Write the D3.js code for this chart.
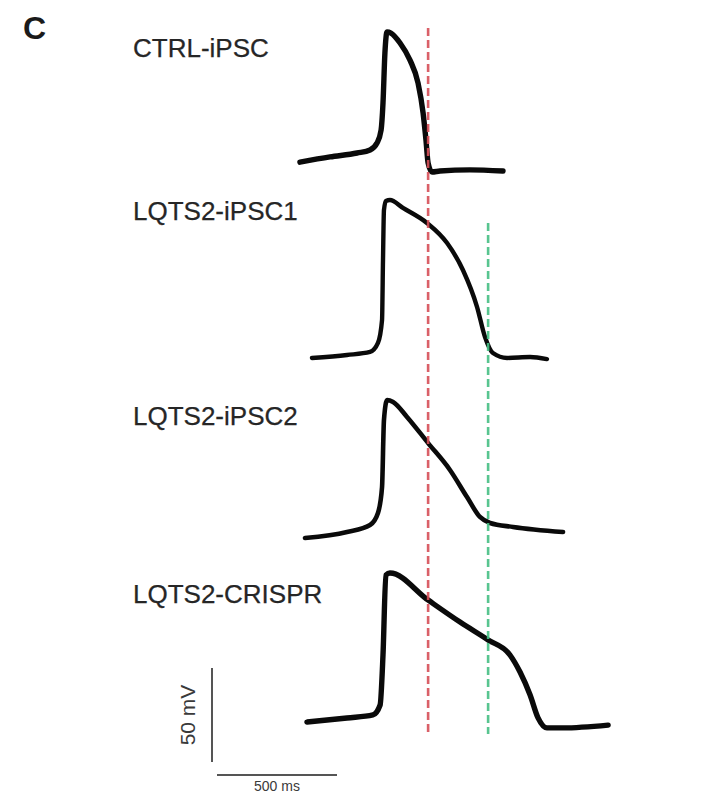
<!DOCTYPE html>
<html>
<head>
<meta charset="utf-8">
<script src="https://cdn.jsdelivr.net/npm/d3@7"></script>
<style>
  html, body { margin: 0; padding: 0; background: #fff; }
  svg { display: block; }
</style>
</head>
<body>
<svg id="chart" width="715" height="793"></svg>
<script>
// Action potential recordings: time (ms, 0 = upstroke) and membrane voltage (mV)
const traceNames = ["CTRL-iPSC", "LQTS2-iPSC1", "LQTS2-iPSC2", "LQTS2-CRISPR"];

const ctrlT = [-346, -221, -108, -54, -25, -8, 0, 8, 17, 33, 71, 112, 146, 167, 179, 188, 204, 237, 362, 500];
const ctrlV = [-65, -62.2, -60.1, -58.5, -54.8, -47.9, -33.5, -6.9, 4.3, 3.7, -1.6, -10.6, -22.9, -38.8, -53.2, -65.4, -70.2, -69.7, -69.1, -69.7];

const ipsc1T = [-296, -150, -54, -21, -4, 0, 4, 12, 29, 83, 183, 267, 333, 392, 425, 458, 517, 613, 683];
const ipsc1V = [-65.4, -63.8, -62.2, -57.4, -45.2, -13.3, 13.3, 18.1, 18.6, 14.4, 6.4, -4.3, -18.6, -38.3, -54.3, -62.8, -65.4, -64.9, -66.0];

const ipsc2T = [-325, -150, -54, -21, -4, 4, 17, 42, 100, 188, 279, 350, 404, 446, 542, 750];
const ipsc2V = [-66.5, -63.3, -59.6, -53.2, -39.4, -3.7, 6.9, 5.9, -2.1, -16.0, -30.3, -44.7, -55.3, -58.5, -60.6, -63.3];

const crisprT = [-317, -150, -42, -12, 0, 12, 29, 188, 321, 438, 529, 571, 613, 646, 683, 750, 938];
const crisprV = [-66.0, -63.8, -62.2, -56.9, -30.3, 12.2, 13.3, -1.1, -12.8, -22.3, -30.3, -39.4, -51.6, -63.8, -69.1, -69.1, -67.6];

// APD reference markers (ms after upstroke)
const markerTimes = [188, 438];
const markerColors = ["#d64f58", "#46bf84"];

// Scale bar values
const scaleBarMv = 50;
const scaleBarMs = 500;

// ---- layout ----
const svg = d3.select("#chart");
const traceTimes = [ctrlT, ipsc1T, ipsc2T, crisprT];
const traceVolts = [ctrlV, ipsc1V, ipsc2V, crisprV];
const panelZeroY = [40, 235, 413, 598];          // y position of 0 mV in each row
const traceWidths = [5.4, 4.4, 4.6, 5.4];
const labelBaselines = [57, 220, 425, 603];
const markerTop = [28, 223];
const markerBottom = 734;
const font = "'Liberation Sans', Arial, Helvetica, sans-serif";

const x = d3.scaleLinear().domain([0, 1000]).range([383, 623]);   // 0.24 px per ms
const dv = d3.scaleLinear().domain([0, 50]).range([0, -94]);       // mV -> vertical offset

const line = d3.line().curve(d3.curveMonotoneX);

// panel letter
svg.append("text")
  .attr("x", 23).attr("y", 39)
  .attr("font-family", font)
  .attr("font-weight", "bold").attr("font-size", 32)
  .attr("fill", "#1a1a1a")
  .text("C");

// row labels
svg.selectAll("text.row")
  .data(traceNames)
  .join("text")
  .attr("class", "row")
  .attr("x", 133)
  .attr("y", (d, i) => labelBaselines[i])
  .attr("font-family", font)
  .attr("font-size", 26)
  .attr("fill", "#262626")
  .attr("stroke", "#262626")
  .attr("stroke-width", 0.25)
  .text(d => d);

// traces
traceTimes.forEach((ts, i) => {
  const y0 = panelZeroY[i];
  const pts = ts.map((t, k) => [x(t), y0 + dv(traceVolts[i][k])]);
  svg.append("path")
    .attr("d", line(pts))
    .attr("fill", "none")
    .attr("stroke", "#0a0a0a")
    .attr("stroke-width", traceWidths[i])
    .attr("stroke-linejoin", "round")
    .attr("stroke-linecap", "round");
});

// dashed APD markers
markerTimes.forEach((t, i) => {
  svg.append("line")
    .attr("x1", x(t)).attr("x2", x(t))
    .attr("y1", markerTop[i]).attr("y2", markerBottom)
    .attr("stroke", markerColors[i])
    .attr("stroke-width", 2.6)
    .attr("stroke-dasharray", "8,4")
    .attr("opacity", 0.9);
});

// scale bars
const barX = 212, barBottom = 762;
svg.append("line")
  .attr("x1", barX).attr("x2", barX)
  .attr("y1", barBottom).attr("y2", barBottom + dv(scaleBarMv))
  .attr("stroke", "#555").attr("stroke-width", 2);

const hBarY = 775, hBarX0 = 217;
svg.append("line")
  .attr("x1", hBarX0).attr("x2", hBarX0 + x(scaleBarMs) - x(0))
  .attr("y1", hBarY).attr("y2", hBarY)
  .attr("stroke", "#555").attr("stroke-width", 2);

svg.append("text")
  .attr("transform", `translate(195, ${barBottom + dv(scaleBarMv) / 2}) rotate(-90)`)
  .attr("text-anchor", "middle")
  .attr("font-family", font)
  .attr("font-size", 21)
  .attr("fill", "#3a3a3a")
  .text(scaleBarMv + " mV");

svg.append("text")
  .attr("x", hBarX0 + (x(scaleBarMs) - x(0)) / 2)
  .attr("y", 791)
  .attr("text-anchor", "middle")
  .attr("font-family", font)
  .attr("font-size", 14)
  .attr("fill", "#3a3a3a")
  .text(scaleBarMs + " ms");
</script>
</body>
</html>
